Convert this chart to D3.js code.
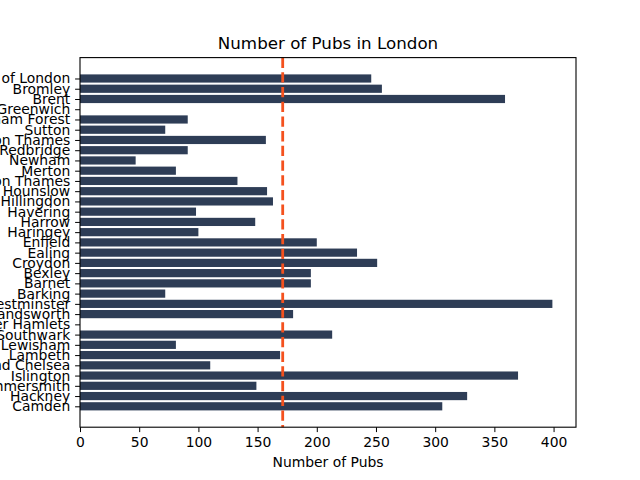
<!DOCTYPE html>
<html>
<head>
<meta charset="utf-8">
<script src="https://cdn.jsdelivr.net/npm/d3@7"></script>
<style>
  body { margin: 0; background: #fff; }
  text { font-family: "DejaVu Sans", sans-serif; fill: #000; }
</style>
</head>
<body>
<svg id="chart" width="640" height="480"></svg>
<script>
// boroughs, bottom to top as drawn
var boroughs = ["Camden", "Hackney", "Hammersmith", "Islington", "Kensington and Chelsea",
    "Lambeth", "Lewisham", "Southwark", "Tower Hamlets", "Wandsworth", "Westminster",
    "Barking", "Barnet", "Bexley", "Croydon", "Ealing", "Enfield", "Haringey", "Harrow",
    "Havering", "Hillingdon", "Hounslow", "Kingston upon Thames", "Merton", "Newham",
    "Redbridge", "Richmond upon Thames", "Sutton", "Waltham Forest", "Greenwich",
    "Brent", "Bromley", "City of London"];
var pubs = [306, 327, 149, 370, 110,
    169, 81, 213, 0, 180, 399,
    72, 195, 195, 251, 234, 200, 100, 148,
    98, 163, 158, 133, 81, 47,
    91, 157, 72, 91, 0,
    359, 255, 246];
var xTicks = [0, 50, 100, 150, 200, 250, 300, 350, 400];

var svg = d3.select("#chart");
var mLeft = 80, mRight = 576, mTop = 57.6, mBottom = 427.2;

var x = d3.scaleLinear().domain([0, d3.max(pubs) * 1.05]).range([mLeft, mRight]);
// matplotlib style category axis: bars of height 0.8, 5% margin
var n = boroughs.length;
var pad = (n - 1 + 0.8) * 0.05;
var y = d3.scaleLinear().domain([-0.4 - pad, n - 1 + 0.4 + pad]).range([mBottom, mTop]);

var data = boroughs.map(function (b, i) { return { name: b, value: pubs[i], i: i }; });

svg.append("g").selectAll("rect")
    .data(data)
    .enter().append("rect")
    .attr("x", x(0))
    .attr("y", function (d) { return y(d.i + 0.4); })
    .attr("width", function (d) { return x(d.value) - x(0); })
    .attr("height", function (d) { return y(d.i - 0.4) - y(d.i + 0.4); })
    .attr("fill", "#2e3d56");

// mean line
var mean = d3.mean(pubs);
svg.append("line")
    .attr("x1", x(mean)).attr("x2", x(mean))
    .attr("y1", mTop).attr("y2", mBottom)
    .attr("stroke", "#f4511e")
    .attr("stroke-width", 2.8)
    .attr("stroke-dasharray", "10.3,4.4");

// frame
svg.append("rect")
    .attr("x", mLeft).attr("y", mTop)
    .attr("width", mRight - mLeft).attr("height", mBottom - mTop)
    .attr("fill", "none").attr("stroke", "#000").attr("stroke-width", 1.1);

var xAxis = d3.axisBottom(x).tickValues(xTicks).tickSize(4.9).tickPadding(4.9);
var gx = svg.append("g").attr("transform", "translate(0," + mBottom + ")").call(xAxis);
gx.select(".domain").remove();
gx.selectAll("text").style("font-size", "13.9px").style("font-family", "DejaVu Sans");

var yAxis = d3.axisLeft(y).tickValues(d3.range(n))
    .tickFormat(function (i) { return boroughs[i]; })
    .tickSize(4.9).tickPadding(4.9);
var gy = svg.append("g").attr("transform", "translate(" + mLeft + ",0)").call(yAxis);
gy.select(".domain").remove();
gy.selectAll("text").style("font-size", "13.9px").style("font-family", "DejaVu Sans");

svg.append("text")
    .attr("x", (mLeft + mRight) / 2).attr("y", 49)
    .attr("text-anchor", "middle")
    .style("font-size", "16.7px")
    .text("Number of Pubs in London");

svg.append("text")
    .attr("x", (mLeft + mRight) / 2).attr("y", 467)
    .attr("text-anchor", "middle")
    .style("font-size", "13.9px")
    .text("Number of Pubs");
</script>
</body>
</html>
